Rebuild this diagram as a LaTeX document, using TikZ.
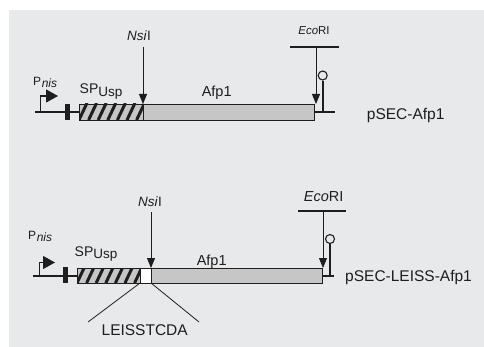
\documentclass[tikz,border=0pt]{standalone}
\usepackage{fontspec}
\setmainfont{Liberation Sans}
\usetikzlibrary{arrows.meta}
\definecolor{bg}{HTML}{E8E9EB}
\definecolor{boxgray}{HTML}{C6C6C6}
\definecolor{ink}{HTML}{1E1E1E}
\newcommand{\fs}[1]{\fontsize{#1}{#1}\selectfont}
\begin{document}
\begin{tikzpicture}[x=1pt,y=-1pt,
  lbl/.style={inner sep=0pt, text=ink, anchor=base},
  lblw/.style={inner sep=0pt, text=ink, anchor=base west},
  dna/.style={draw=ink, line width=1.3pt},
  gene/.style={draw=ink, line width=0.9pt, fill=boxgray, inner sep=0pt, outer sep=0pt, anchor=north west},
  hatch/.style={gene, path picture={\foreach \k in {-2,...,8}{\draw[ink, line width=3pt] ([xshift=\k*9.6pt]path picture bounding box.south west) -- ++(8,-17);}}},
  spacer/.style={gene, fill=white},
  stopbar/.style={fill=ink, inner sep=0pt, outer sep=0pt, anchor=north west},
  term/.style={draw=ink, line width=2.2pt},
  termhead/.style={circle, draw=ink, line width=1.1pt, fill=bg, minimum size=9pt, inner sep=0pt},
  cutarrow/.style={draw=ink, line width=0.9pt, -{Triangle[width=8pt,length=10pt]}},
  sitebar/.style={draw=ink, line width=1.1pt},
  prom/.style={draw=ink, line width=1.1pt, -{Triangle[width=13pt,length=12pt]}},
  thin/.style={draw=ink, line width=0.8pt}]
\useasboundingbox (0,0) rectangle (484,347);
\fill[bg] (9,10) rectangle (484,347);

% ---------- top construct: pSEC-Afp1 ----------
\coordinate (b1L) at (35,112);
\coordinate (b1R) at (335,112);
\draw[dna] (b1L) -- (b1R);
\node[stopbar, minimum width=5pt, minimum height=16pt] (stop1) at (65,104) {};
\node[hatch, minimum width=64pt, minimum height=16pt] (sp1) at (79,104) {};
\node[gene, minimum width=171pt, minimum height=16pt] (afp1) at (sp1.north east) {};
\coordinate (p1) at (40.7,112);
\coordinate (p1t) at (58,96);
\draw[prom] (p1) |- (p1t);
\node[lblw, font=\fs{12}] (pn1) at (33,86) {P\kern0.6pt\raisebox{-1.5pt}{\fs{12}\itshape nis}};
\node[lblw, font=\fs{14}] (spl1) at (79.5,94) {SP\raisebox{-2.7pt}{\fs{13.5}Usp}};
\node[lbl, font=\fs{14.5}] (afl1) at (216.7,97) {Afp1};
\node[lbl, font=\fs{13.5}] (nsi1) at (139,40.7) {\textit{Nsi}I};
\coordinate (nsi1a) at (143,47);
\draw[cutarrow] (nsi1a) -- (sp1.north east);
\node[lbl, font=\fs{11.5}] (eco1) at (314,35) {\textit{Eco}RI};
\coordinate (eco1L) at (290,47);
\coordinate (eco1R) at (339,47);
\draw[sitebar] (eco1L) -- (eco1R);
\coordinate (eco1a) at (316,47);
\draw[cutarrow] (eco1a) -- (eco1a |- afp1.north);
\node[termhead] (t1) at (322.7,75.5) {};
\draw[term] (t1.south) -- (t1.south |- b1R);
\node[lblw, font=\fs{15.5}] (name1) at (366.7,120) {pSEC-Afp1};

% ---------- bottom construct: pSEC-LEISS-Afp1 ----------
\coordinate (b2L) at (33,276);
\coordinate (b2R) at (334,276);
\draw[dna] (b2L) -- (b2R);
\node[stopbar, minimum width=5pt, minimum height=16pt] (stop2) at (63,267) {};
\node[hatch, minimum width=63pt, minimum height=15pt] (sp2) at (77,268) {};
\node[spacer, minimum width=11pt, minimum height=15pt] (spc2) at (sp2.north east) {};
\node[gene, minimum width=171pt, minimum height=15pt] (afp2) at (spc2.north east) {};
\coordinate (p2) at (39.3,276);
\coordinate (p2t) at (55,262.5);
\draw[prom] (p2) |- (p2t);
\node[lblw, font=\fs{12}] (pn2) at (28,240) {P\kern0.6pt\raisebox{-1.5pt}{\fs{12}\itshape nis}};
\node[lblw, font=\fs{14}] (spl2) at (74.5,256) {SP\raisebox{-2.7pt}{\fs{13.5}Usp}};
\node[lbl, font=\fs{14.5}] (afl2) at (211.7,265) {Afp1};
\node[lbl, font=\fs{13.5}] (nsi2) at (150,206.7) {\textit{Nsi}I};
\coordinate (nsi2a) at (151,212);
\draw[cutarrow] (nsi2a) -- (spc2.north east);
\coordinate (lz1) at (88,322);
\coordinate (lz2) at (199,322);
\draw[thin] (spc2.south west) -- (lz1);
\draw[thin] (spc2.south east) -- (lz2);
\node[lbl, font=\fs{15.5}] (leiss) at (144.7,335) {LEISSTCDA};
\node[lbl, font=\fs{14.5}] (eco2) at (323.7,201.7) {\textit{Eco}RI};
\coordinate (eco2L) at (298,211);
\coordinate (eco2R) at (346,211);
\draw[sitebar] (eco2L) -- (eco2R);
\coordinate (eco2a) at (323,211);
\draw[cutarrow] (eco2a) -- (eco2a |- afp2.north);
\node[termhead] (t2) at (330,239) {};
\draw[term] (t2.south) -- (t2.south |- b2R);
\node[lblw, font=\fs{15.5}] (name2) at (345,281) {pSEC-LEISS-Afp1};
\end{tikzpicture}
\end{document}
